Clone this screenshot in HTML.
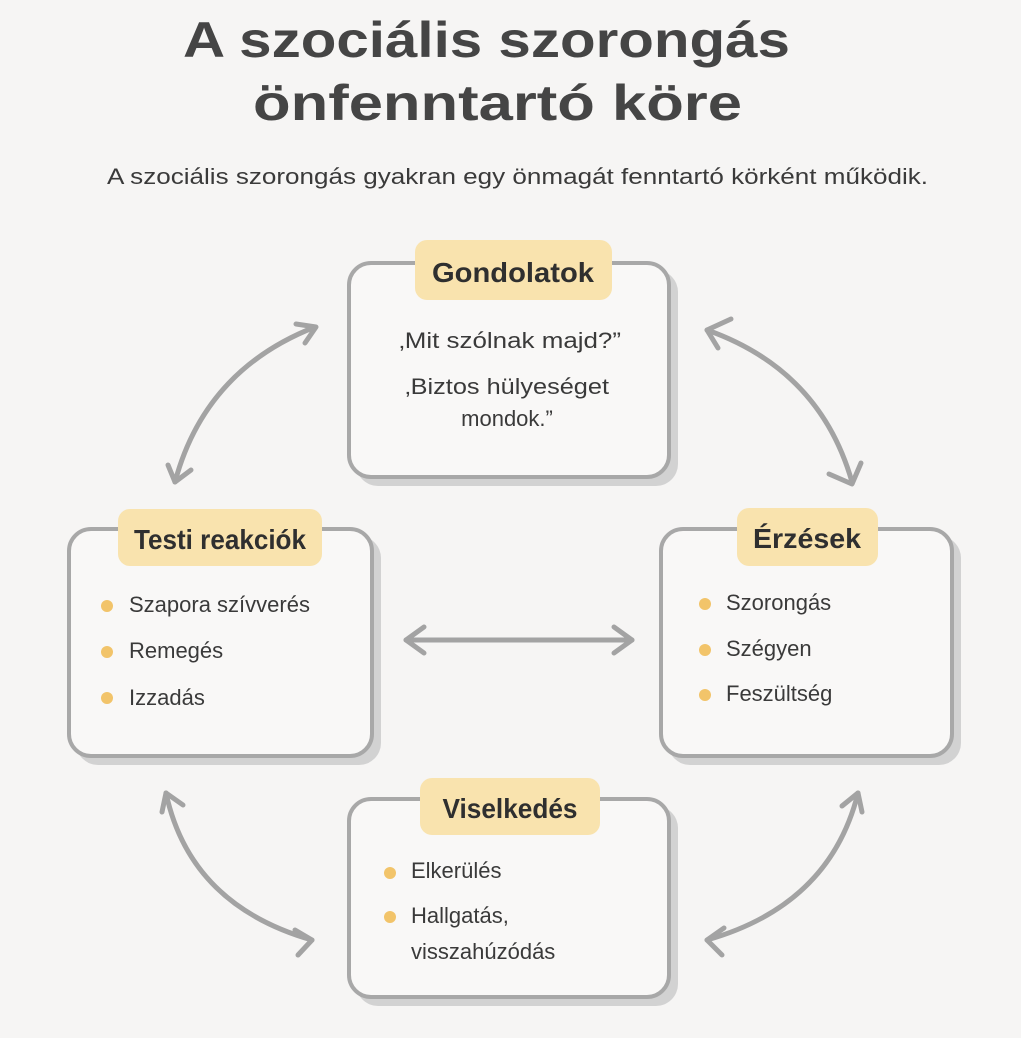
<!DOCTYPE html>
<html><head><meta charset="utf-8"><style>
html,body{margin:0;padding:0;background:#f6f5f4;}
body{width:1021px;height:1033px;position:relative;overflow:hidden;font-family:"Liberation Sans",sans-serif;color:#3a3a3a;}
</style></head><body>
<svg width="1021" height="1033" viewBox="0 0 1021 1033" xmlns="http://www.w3.org/2000/svg">
<rect width="1021" height="1033" fill="#f6f5f4"/>
<g font-family="Liberation Sans, sans-serif" fill="#454545" font-weight="bold">
<text x="183" y="57" font-size="50" textLength="607" lengthAdjust="spacingAndGlyphs">A szociális szorongás</text>
<text x="253" y="120" font-size="50" textLength="489" lengthAdjust="spacingAndGlyphs">önfenntartó köre</text>
</g>
<text x="107" y="184" font-size="22" fill="#3a3a3a" font-family="Liberation Sans, sans-serif" textLength="821" lengthAdjust="spacingAndGlyphs">A szociális szorongás gyakran egy önmagát fenntartó körként működik.</text>

<g>
<rect x="356" y="270" width="322" height="216" rx="22" fill="#d2d2d2"/>
<rect x="349" y="263" width="320" height="214" rx="22" fill="#f9f8f7" stroke="#a8a8a8" stroke-width="4"/>
<rect x="76" y="536" width="305" height="229" rx="22" fill="#d2d2d2"/>
<rect x="69" y="529" width="303" height="227" rx="22" fill="#f9f8f7" stroke="#a8a8a8" stroke-width="4"/>
<rect x="668" y="536" width="293" height="229" rx="22" fill="#d2d2d2"/>
<rect x="661" y="529" width="291" height="227" rx="22" fill="#f9f8f7" stroke="#a8a8a8" stroke-width="4"/>
<rect x="356" y="806" width="322" height="200" rx="22" fill="#d2d2d2"/>
<rect x="349" y="799" width="320" height="198" rx="22" fill="#f9f8f7" stroke="#a8a8a8" stroke-width="4"/>
</g>
<g fill="#f9e3ae">
<rect x="415" y="240" width="197" height="60" rx="12"/>
<rect x="118" y="509" width="204" height="57" rx="12"/>
<rect x="737" y="508" width="141" height="58" rx="12"/>
<rect x="420" y="778" width="180" height="57" rx="12"/>
</g>
<g font-family="Liberation Sans, sans-serif" font-size="28" fill="#2f2f2f" text-anchor="middle" font-weight="bold">
<text x="513" y="282" textLength="162" lengthAdjust="spacingAndGlyphs">Gondolatok</text>
<text x="220" y="549" textLength="172" lengthAdjust="spacingAndGlyphs">Testi reakciók</text>
<text x="807" y="548" textLength="108" lengthAdjust="spacingAndGlyphs">Érzések</text>
<text x="510" y="818" textLength="135" lengthAdjust="spacingAndGlyphs">Viselkedés</text>
</g>
<g font-family="Liberation Sans, sans-serif" font-size="22" fill="#3a3a3a">
<text x="399" y="348" textLength="222" lengthAdjust="spacingAndGlyphs">‚Mit szólnak majd?”</text>
<text x="405" y="394" textLength="204" lengthAdjust="spacingAndGlyphs">‚Biztos hülyeséget</text>
<text x="507" y="426" text-anchor="middle">mondok.”</text>
<text x="129" y="612">Szapora szívverés</text>
<text x="129" y="658">Remegés</text>
<text x="129" y="705">Izzadás</text>
<text x="726" y="610">Szorongás</text>
<text x="726" y="656">Szégyen</text>
<text x="726" y="701">Feszültség</text>
<text x="411" y="878">Elkerülés</text>
<text x="411" y="923">Hallgatás,</text>
<text x="411" y="959">visszahúzódás</text>
</g>
<g fill="#f2c46a">
<circle cx="107" cy="606" r="6"/><circle cx="107" cy="652" r="6"/><circle cx="107" cy="698" r="6"/>
<circle cx="705" cy="604" r="6"/><circle cx="705" cy="650" r="6"/><circle cx="705" cy="695" r="6"/>
<circle cx="390" cy="873" r="6"/><circle cx="390" cy="917" r="6"/>
</g>
<g fill="none" stroke="#a3a3a3" stroke-width="5" stroke-linecap="round" stroke-linejoin="round">
<path d="M315 327 Q205 370 175 482"/>
<path d="M296 324 L316 327 L305 343"/><path d="M168 465 L175 482 L191 470"/>
<path d="M707 330 Q820 370 852 482"/>
<path d="M731 319 L707 330 L718 348"/><path d="M829 474 L852 484 L861 463"/>
<path d="M166 793 Q190 905 312 940"/>
<path d="M162 812 L166 793 L183 805"/><path d="M295 930 L312 940 L298 955"/>
<path d="M858 793 Q830 905 707 940"/>
<path d="M842 806 L858 793 L862 812"/><path d="M724 928 L707 940 L722 955"/>
<path d="M406 640 L632 640"/>
<path d="M424 627 L406 640 L424 653"/><path d="M614 627 L632 640 L614 653"/>
</g>
</svg>
</body></html>
